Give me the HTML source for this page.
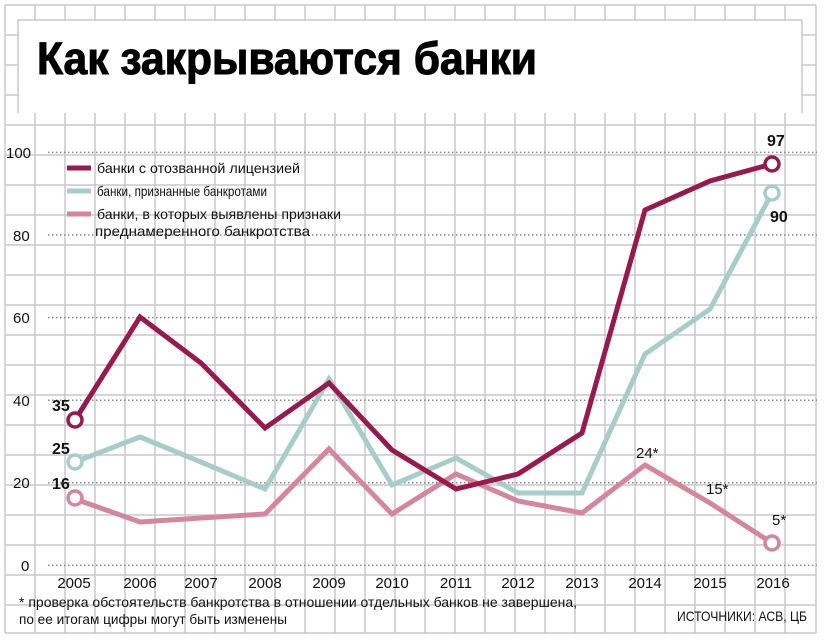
<!DOCTYPE html>
<html><head><meta charset="utf-8"><style>
html,body{margin:0;padding:0;background:#fff;}
svg{display:block;}
text{font-family:"Liberation Sans","DejaVu Sans",sans-serif;}
</style></head><body>
<svg width="824" height="640" viewBox="0 0 824 640" xmlns="http://www.w3.org/2000/svg">
<rect width="824" height="640" fill="#fff"/>
<g stroke="#c9c9cd" stroke-width="1.5">
<path d="M5 5V633M35 5V633M65 5V633M95 5V633M125 5V633M155 5V633M185 5V633M215 5V633M245 5V633M275 5V633M305 5V633M335 5V633M365 5V633M395 5V633M425 5V633M455 5V633M485 5V633M515 5V633M545 5V633M575 5V633M605 5V633M635 5V633M665 5V633M695 5V633M725 5V633M755 5V633M785 5V633M816 5V633"/>
<path d="M5 5H816M5 35H816M5 65H816M5 95H816M5 125H816M5 155H816M5 185H816M5 215H816M5 245H816M5 275H816M5 305H816M5 335H816M5 365H816M5 395H816M5 425H816M5 455H816M5 485H816M5 515H816M5 545H816M5 575H816M5 605H816M5 633H816"/>
</g>
<rect x="18" y="20" width="784" height="93" fill="#fff"/>
<path d="M18 113V20H802V113" fill="none" stroke="#c9c9cd" stroke-width="1.5"/>
<text x="37" y="74" font-size="45" font-weight="bold" stroke="#000" stroke-width="1" textLength="500" lengthAdjust="spacingAndGlyphs">Как закрываются банки</text>
<g stroke="#888" stroke-width="1.5" stroke-dasharray="1.5 2.5">
<path d="M48 152.4H817M48 235H817M48 317.6H817M48 400.2H817M48 482.8H817M48 565.4H817"/>
</g>
<g font-size="15" fill="#111">
<text x="6" y="158">100</text><text x="13" y="241">80</text><text x="13" y="323">60</text><text x="13" y="406">40</text><text x="13" y="488">20</text><text x="21" y="571">0</text>
</g>
<g font-size="15" fill="#111" text-anchor="middle">
<text x="74" y="588">2005</text><text x="140" y="588">2006</text><text x="201" y="588">2007</text><text x="265" y="588">2008</text><text x="329" y="588">2009</text><text x="392" y="588">2010</text><text x="456" y="588">2011</text><text x="518" y="588">2012</text><text x="582" y="588">2013</text><text x="645" y="588">2014</text><text x="710" y="588">2015</text><text x="773" y="588">2016</text>
</g>
<g stroke-width="5" fill="none" stroke-linejoin="miter">
<polyline stroke="#d5869c" points="75,499 140,522 201,518 265,514 329,449 392,514 456,474 518,501 582,513 645,465 710,503 772,543"/>
<polyline stroke="#a8ccc7" points="75,462 140,437 201,462 265,489 329,379 392,485 456,458 518,493 582,493 645,354 710,309 772,193"/>
<polyline stroke="#981a4c" points="75,420 140,317 201,363 265,428 329,383 392,450 456,489 518,474 582,433 645,210 710,181 772,164"/>
</g>
<g fill="#fff" stroke-width="3.5">
<circle cx="75" cy="420" r="7" stroke="#981a4c"/>
<circle cx="75" cy="462" r="7" stroke="#a8ccc7"/>
<circle cx="75" cy="498" r="7" stroke="#d5869c"/>
<circle cx="772" cy="164" r="7" stroke="#981a4c"/>
<circle cx="772" cy="193" r="7" stroke="#a8ccc7"/>
<circle cx="772" cy="543" r="7" stroke="#d5869c"/>
</g>
<g font-size="16" font-weight="bold" fill="#111">
<text x="52" y="411">35</text><text x="52" y="454">25</text><text x="52" y="489">16</text>
<text x="767" y="146">97</text><text x="770" y="222">90</text>
</g>
<g font-size="15" fill="#111">
<text x="636" y="458">24*</text><text x="706" y="494">15*</text><text x="772" y="525">5*</text>
</g>
<g stroke-width="5">
<path d="M67 168H91" stroke="#981a4c"/><path d="M67 191H91" stroke="#a8ccc7"/><path d="M67 214H91" stroke="#d5869c"/>
</g>
<g font-size="14" fill="#111">
<text x="97" y="173" textLength="203" lengthAdjust="spacingAndGlyphs">банки с отозванной лицензией</text>
<text x="97" y="196" textLength="170" lengthAdjust="spacingAndGlyphs">банки, признанные банкротами</text>
<text x="97" y="219" textLength="244" lengthAdjust="spacingAndGlyphs">банки, в которых выявлены признаки</text>
<text x="95" y="236" textLength="215" lengthAdjust="spacingAndGlyphs">преднамеренного банкротства</text>
</g>
<g font-size="14" fill="#111">
<text x="19" y="607" textLength="558" lengthAdjust="spacingAndGlyphs">* проверка обстоятельств банкротства в отношении отдельных банков не завершена,</text>
<text x="19" y="624" textLength="268" lengthAdjust="spacingAndGlyphs">по ее итогам цифры могут быть изменены</text>
<text x="677" y="621" textLength="130" lengthAdjust="spacingAndGlyphs">ИСТОЧНИКИ: АСВ, ЦБ</text>
</g>
</svg>
</body></html>
